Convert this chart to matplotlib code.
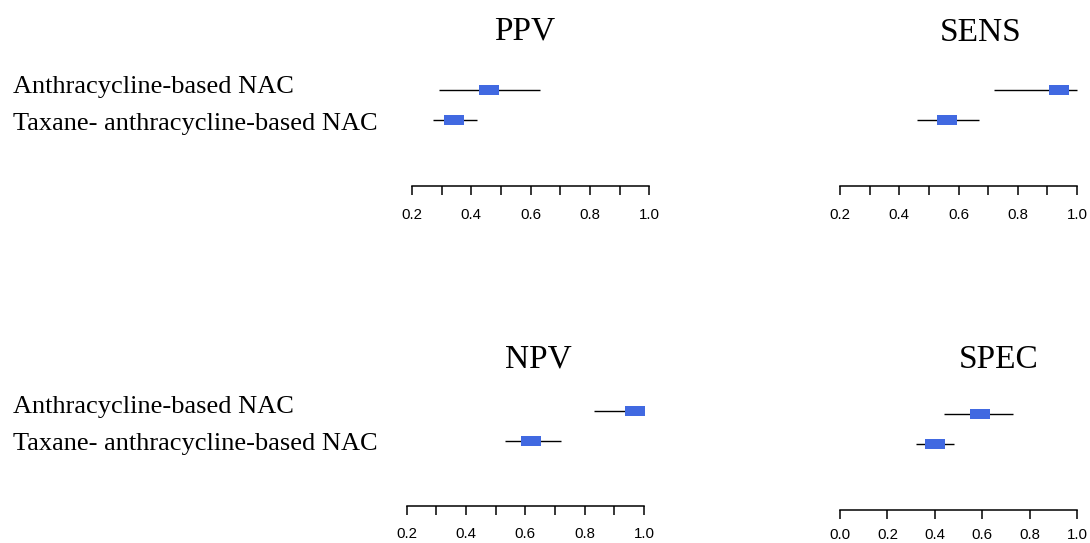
import numpy as np
import matplotlib
matplotlib.use("Agg")
import matplotlib.pyplot as plt
from matplotlib.path import Path

# Diagnostic accuracy by NAC regimen
groups = ["Anthracycline-based NAC", "Taxane- anthracycline-based NAC"]

ppv_est = [0.46, 0.34]
ppv_lo = [0.29, 0.27]
ppv_hi = [0.63, 0.42]

sens_est = [0.94, 0.56]
sens_lo = [0.72, 0.46]
sens_hi = [1.00, 0.67]

npv_est = [0.97, 0.62]
npv_lo = [0.83, 0.53]
npv_hi = [1.00, 0.72]

spec_est = [0.59, 0.40]
spec_lo = [0.44, 0.32]
spec_hi = [0.73, 0.48]

ticks_fine = [0.2, 0.3, 0.4, 0.5, 0.6, 0.7, 0.8, 0.9, 1.0]
labels_fine = ["0.2", "", "0.4", "", "0.6", "", "0.8", "", "1.0"]
ticks_spec = [0.0, 0.2, 0.4, 0.6, 0.8, 1.0]
labels_spec = ["0.0", "0.2", "0.4", "0.6", "0.8", "1.0"]

W, H = 1090, 543
SERIF = "Liberation Serif"
SANS = "Liberation Sans"
BOX_COLOR = "#4169E1"
ROW_GAP = 30.0  # pixels between the two rows

# flat rectangle used as the point-estimate box
box = Path([(-1, -0.56), (1, -0.56), (1, 0.56), (-1, 0.56), (-1, -0.56)],
           [Path.MOVETO, Path.LINETO, Path.LINETO, Path.LINETO, Path.CLOSEPOLY])

fig = plt.figure(figsize=(W / 100, H / 100), dpi=100)


def forest_panel(left, right, row0, axis_y, est, lo, hi, ticks, labels,
                 title, title_xy, pad=9.5):
    top = row0 - 20
    ax = fig.add_axes([left / W, 1 - axis_y / H, (right - left) / W, (axis_y - top) / H])
    rows = np.arange(len(est))
    ax.hlines(rows, lo, hi, color="black", lw=1.0, clip_on=False, zorder=2)
    ax.plot(est, rows, ls="none", marker=box, ms=13.7, color=BOX_COLOR,
            mew=0, clip_on=False, zorder=3)
    ax.set_xlim(ticks[0], ticks[-1])
    ax.set_ylim((axis_y - top) / ROW_GAP - 20 / ROW_GAP, -20 / ROW_GAP)
    for s in ["left", "right", "top"]:
        ax.spines[s].set_visible(False)
    ax.spines["bottom"].set_linewidth(1.1)
    ax.set_yticks([])
    ax.set_xticks(ticks)
    ax.set_xticklabels(labels, fontfamily=SANS, fontsize=10.8)
    ax.tick_params(axis="x", direction="out", length=6.7, width=1.1, pad=pad)
    ax.patch.set_alpha(0)
    fig.text(title_xy[0] / W, 1 - title_xy[1] / H, title, fontfamily=SERIF,
             fontsize=24, ha="center", va="baseline")
    return ax


forest_panel(412, 649.3, 90.3, 185.7, ppv_est, ppv_lo, ppv_hi,
             ticks_fine, labels_fine, "PPV", (524.5, 40))
forest_panel(840, 1077, 90.3, 185.7, sens_est, sens_lo, sens_hi,
             ticks_fine, labels_fine, "SENS", (981, 41))
forest_panel(406.7, 644, 411, 505.7, npv_est, npv_lo, npv_hi,
             ticks_fine, labels_fine, "NPV", (538.5, 368), pad=8.5)
forest_panel(840, 1077, 414.3, 510, spec_est, spec_lo, spec_hi,
             ticks_spec, labels_spec, "SPEC", (999, 368), pad=6.5)

# group labels on the left
for base in [(93.3, 130), (413.3, 450)]:
    for name, y in zip(groups, base):
        fig.text(13 / W, 1 - y / H, name, fontfamily=SERIF, fontsize=19,
                 ha="left", va="baseline")

fig.savefig("out.png", dpi=100)
